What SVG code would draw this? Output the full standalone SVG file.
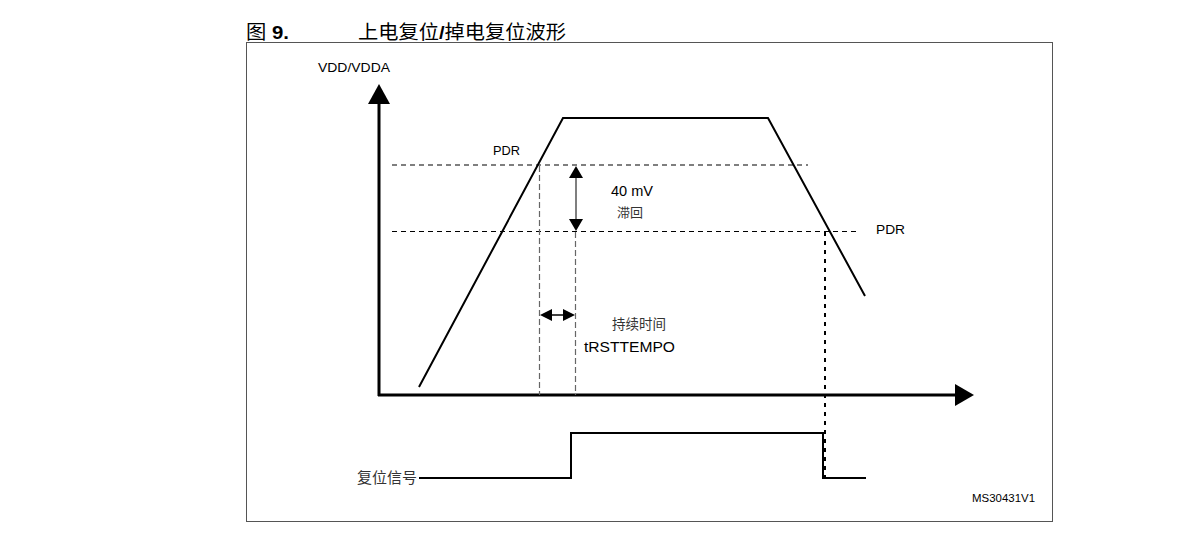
<svg xmlns="http://www.w3.org/2000/svg" width="1186" height="555" viewBox="0 0 1186 555">
<style>
.t{font-family:"Liberation Sans",Arial,"Noto Sans CJK SC",sans-serif;fill:#000}
.cjk{font-family:"Liberation Sans","Noto Sans CJK SC",sans-serif;fill:#333}
.dash{stroke:#000;stroke-width:1.2;stroke-dasharray:5,4;fill:none}
.vdash{stroke:#666;stroke-width:1.2;stroke-dasharray:6,3;fill:none}
.wave{stroke:#000;stroke-width:2;fill:none}
.axis{stroke:#000;stroke-width:3;fill:none}
</style>
<rect width="1186" height="555" fill="#fff"/>
<g id="title">
<text x="246" y="39" class="t" font-size="19" font-weight="bold" textLength="43" lengthAdjust="spacingAndGlyphs"><tspan font-weight="normal">图</tspan> 9.</text>
<text x="358" y="39" class="t" font-size="19" textLength="208" lengthAdjust="spacingAndGlyphs">上电复位<tspan font-weight="bold">/</tspan>掉电复位波形</text>
</g>
<rect id="frame" x="246.5" y="42.5" width="806" height="479" fill="none" stroke="#555" stroke-width="1"/>
<g id="axes">
<line x1="379" y1="396" x2="379" y2="100" class="axis"/>
<path d="M368,104 L379,84 L390,104 z" fill="#000"/>
<line x1="378" y1="395" x2="957" y2="395" class="axis"/>
<path d="M955,384 L974,395 L955,406 z" fill="#000"/>
<text x="318" y="72" class="t" font-size="13" textLength="72" lengthAdjust="spacingAndGlyphs">VDD/VDDA</text>
</g>
<g id="connectors">
<line x1="392" y1="165" x2="808" y2="165" class="dash"/>
<line x1="392" y1="231.5" x2="858" y2="231.5" class="dash"/>
<line x1="539.5" y1="166" x2="539.5" y2="395" class="vdash"/>
<line x1="575.5" y1="232" x2="575.5" y2="395" class="vdash"/>
<line x1="825" y1="232" x2="825" y2="478" stroke="#000" stroke-width="2" stroke-dasharray="4,5"/>
<line x1="576" y1="178" x2="576" y2="219" stroke="#555" stroke-width="1.5"/>
<path d="M569,178 L576,166 L583,178 z" fill="#000"/>
<path d="M569,219 L576,231 L583,219 z" fill="#000"/>
<line x1="552" y1="315" x2="563" y2="315" stroke="#000" stroke-width="1.5"/>
<path d="M552,309 L540,315 L552,321 z" fill="#000"/>
<path d="M563,309 L575,315 L563,321 z" fill="#000"/>
</g>
<g id="vdd-wave">
<polyline points="419,387 563,118 768,118 865,296" class="wave"/>
</g>
<g id="labels">
<text x="493" y="155" class="t" font-size="13" textLength="27" lengthAdjust="spacingAndGlyphs">PDR</text>
<text x="876" y="234" class="t" font-size="13" textLength="29" lengthAdjust="spacingAndGlyphs">PDR</text>
<text x="611" y="196" class="t" font-size="14" textLength="42" lengthAdjust="spacingAndGlyphs">40 mV</text>
<text x="617" y="217" class="cjk" font-size="13">滞回</text>
<text x="612" y="329" class="cjk" font-size="13.5">持续时间</text>
<text x="584" y="352" class="t" font-size="15" textLength="91" lengthAdjust="spacingAndGlyphs">tRSTTEMPO</text>
<text x="972" y="502" class="t" font-size="11.5" textLength="63" lengthAdjust="spacingAndGlyphs">MS30431V1</text>
</g>
<g id="reset-signal">
<text x="357" y="483" class="cjk" font-size="15">复位信号</text>
<polyline points="419,478 571,478 571,433 823,433 823,478 866,478" class="wave"/>
</g>
</svg>
